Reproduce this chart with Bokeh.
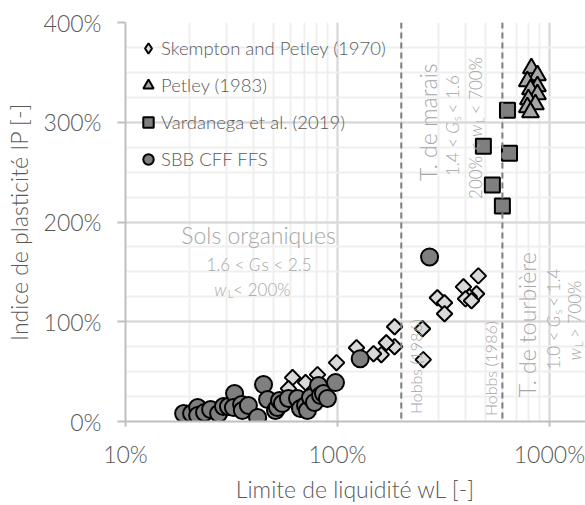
import math
from bokeh.plotting import figure
from bokeh.models import (Span, Label, Legend, LegendItem, SingleIntervalTicker)
from bokeh.embed import file_html
from bokeh.resources import INLINE

# ---------------- data (percent) ----------------
skempton_wl = [462, 393, 453, 419, 402, 429, 296, 320, 320, 252, 186, 186, 254,
               170, 161, 148, 123, 99, 80.5, 70.7, 61.4, 58.7]
skempton_ip = [146, 135, 128, 125, 123, 121, 124, 119, 108, 93, 95, 75, 62,
               79, 67, 68, 74, 59, 47, 39, 44, 33]

petley_wl = [822, 878, 787, 878, 814, 878, 796, 859, 787, 814]
petley_ip = [354, 347, 341, 336, 333, 328, 323, 318, 315, 310]

vardanega_wl = [634, 488, 648, 538, 600]
vardanega_ip = [312, 276, 269, 237, 216]

sbb_wl = [18.8, 20.5, 21.9, 21.9, 23.6, 25.2, 27.5, 29.0, 30.6, 32.7, 32.3, 35.3,
          35.6, 38.0, 42.0, 44.8, 46.8, 51.0, 52.1, 53.3, 55.0, 58.7, 64.8, 66.9,
          70.7, 72.2, 74.6, 77.9, 81.4, 83.2, 85.9, 89.7, 97.9, 128, 272]
sbb_ip = [8, 8, 14, 6, 9, 12, 8, 15, 15, 28, 14, 17,
          11, 16, 4, 37, 22, 11, 14, 21, 18, 23, 23, 13,
          16, 11, 24, 19, 36, 26, 28, 23, 39, 63, 165]

series_names = ["Skempton and Petley (1970)", "Petley (1983)",
                "Vardanega et al. (2019)", "SBB CFF FFS"]
hobbs_limits = [200, 600]
x_ticks = [10, 100, 1000]
x_tick_labels = ["10%", "100%", "1000%"]
y_ticks = [0, 100, 200, 300, 400]
y_tick_labels = ["0%", "100%", "200%", "300%", "400%"]

FONT = "Lato Light"
TXT = "#595959"
ANN = "#a6a6a6"

p = figure(width=585, height=505, x_axis_type="log",
           x_range=(10, 1480), y_range=(0, 400),
           output_backend="svg", toolbar_location=None,
           min_border_left=125, min_border_right=0,
           min_border_top=22, min_border_bottom=79)
p.outline_line_color = None
p.background_fill_color = "white"

# grids
p.xgrid.grid_line_color = "#d6d6d6"
p.xgrid.grid_line_width = 2
p.xgrid.minor_grid_line_color = "#efefef"
p.xgrid.minor_grid_line_width = 2
p.ygrid.grid_line_color = "#d6d6d6"
p.ygrid.grid_line_width = 2
p.ygrid.minor_grid_line_color = "#efefef"
p.ygrid.minor_grid_line_width = 2

p.yaxis.ticker = SingleIntervalTicker(interval=100, num_minor_ticks=4)
p.xaxis.ticker.num_minor_ticks = 10

p.xaxis.major_label_overrides = {v: l for v, l in zip(x_ticks, x_tick_labels)}
p.yaxis.major_label_overrides = {v: l for v, l in zip(y_ticks, y_tick_labels)}

for ax in (p.xaxis, p.yaxis):
    ax.axis_line_color = "#bfbfbf"
    ax.axis_line_width = 2
    ax.major_tick_line_color = "#bfbfbf"
    ax.major_tick_line_width = 2
    ax.minor_tick_line_color = None
    ax.major_tick_in = 0
    ax.major_label_text_font = FONT
    ax.major_label_text_font_size = "23px"
    ax.major_label_text_color = TXT
    ax.axis_label_text_font = FONT
    ax.axis_label_text_font_size = "23px"
    ax.axis_label_text_font_style = "normal"
    ax.axis_label_text_color = TXT

p.xaxis.major_tick_out = 5
p.xaxis.major_label_standoff = 13
p.xaxis.axis_label = "Limite de liquidité wL [-]"
p.xaxis.axis_label_standoff = 4
p.yaxis.major_tick_out = 8
p.yaxis.major_label_standoff = 16
p.yaxis.axis_label = "Indice de plasticité IP [-]"
p.yaxis.axis_label_standoff = 8

# reference lines
for loc in hobbs_limits:
    p.add_layout(Span(location=loc, dimension="height", line_color="#7f7f7f",
                      line_width=2, line_dash="6 4"))

# legend proxy for the diamond symbol (drawn under the first diamond, hidden)
r1_leg = p.scatter(skempton_wl[:1], skempton_ip[:1], marker="diamond", size=9,
                   fill_color="#d9d9d9", line_color="black", line_width=2)
# markers
r1 = p.scatter(skempton_wl, skempton_ip, marker="square", angle=math.pi / 4,
               size=11, fill_color="#d9d9d9", line_color="black", line_width=2)
r2 = p.scatter(petley_wl, petley_ip, marker="triangle", size=17,
               fill_color="#a6a6a6", line_color="black", line_width=2)
r3 = p.scatter(vardanega_wl, vardanega_ip, marker="square", size=15,
               fill_color="#7f7f7f", line_color="black", line_width=2)
r4 = p.scatter(sbb_wl, sbb_ip, marker="circle", size=17,
               fill_color="#7f7f7f", line_color="black", line_width=2)

legend = Legend(items=[
    LegendItem(label=series_names[0], renderers=[r1_leg]),
    LegendItem(label=series_names[1], renderers=[r2]),
    LegendItem(label=series_names[2], renderers=[r3]),
    LegendItem(label=series_names[3], renderers=[r4]),
], location=(10, 249))
legend.background_fill_alpha = 0
legend.border_line_color = None
legend.label_text_font = FONT
legend.label_text_font_size = "18.5px"
legend.label_text_color = TXT
legend.glyph_width = 26
legend.glyph_height = 26
legend.label_height = 26
legend.spacing = 11
legend.padding = 0
legend.margin = 0
legend.label_standoff = -3
p.add_layout(legend)

# ---------------- annotations ----------------
CW = {'.': .24, ' ': .193, '<': .58, '>': .58, '%': .78, 'G': .72, 's': .37,
      'w': .75, 'L': .48}

def tw(t, size):
    return sum(CW.get(c, .58) for c in t) * size * 1.05

def lab(x, y, t, size, angle=0.0, color=ANN):
    p.add_layout(Label(x=x, y=y, text=t, text_font=FONT, text_font_size=size,
                       text_color=color, text_align="center",
                       text_baseline="middle", angle=angle))

def rich(x, y, pieces, angle=0.0, color=ANN):
    # pieces: (text, size_px, style, subscript)
    total = sum(tw(t, s) for t, s, _, _ in pieces)
    pos = -total / 2
    for t, s, st, sub in pieces:
        lead = len(t) - len(t.lstrip())
        start = pos + tw(t[:lead], s)
        if angle == 0:
            xo, yo = start, -5 - (4 if sub else 0)
        else:
            xo, yo = 5 + (4 if sub else 0), start
        p.add_layout(Label(x=x, y=y, text=t.strip(), text_font=FONT,
                           text_font_size=f"{s}px", text_font_style=st,
                           text_color=color, text_align="left",
                           text_baseline="alphabetic", angle=angle,
                           x_offset=xo, y_offset=yo))
        pos += tw(t, s)

A = math.pi / 2
lab(42.4, 187, "Sols organiques", "23px")
rich(42.4, 162, [("1.6 < ", 17, "normal", False), ("G", 17, "italic", False),
                 ("s < 2.5", 17, "normal", False)])
rich(40, 137, [("w", 17, "italic", False), ("L", 11, "normal", True),
               ("< 200%", 17, "normal", False)])

lab(266, 300, "T. de marais", "23px", A)
rich(330, 297, [("1.4 < ", 17, "normal", False), ("G", 17, "italic", False),
                ("s", 11, "normal", True), (" < 1.6", 17, "normal", False)], A)
rich(424, 295, [("200% < ", 17, "normal", False), ("w", 17, "italic", False),
                ("L", 11, "normal", True), (" < 700%", 17, "normal", False)], A)
lab(787, 97, "T. de tourbière", "23px", A)
rich(989, 103, [("1.0 < ", 17, "normal", False), ("G", 17, "italic", False),
                ("s", 11, "normal", True), (" < 1.4", 17, "normal", False)], A)
rich(1243, 102, [("w", 17, "italic", False), ("L", 11, "normal", True),
                 (" > 700%", 17, "normal", False)], A)
lab(233, 55, "Hobbs (1986)", "16px", A)
lab(527, 53, "Hobbs (1986)", "16px", A)

open("out.html", "w").write(file_html(p, INLINE))
